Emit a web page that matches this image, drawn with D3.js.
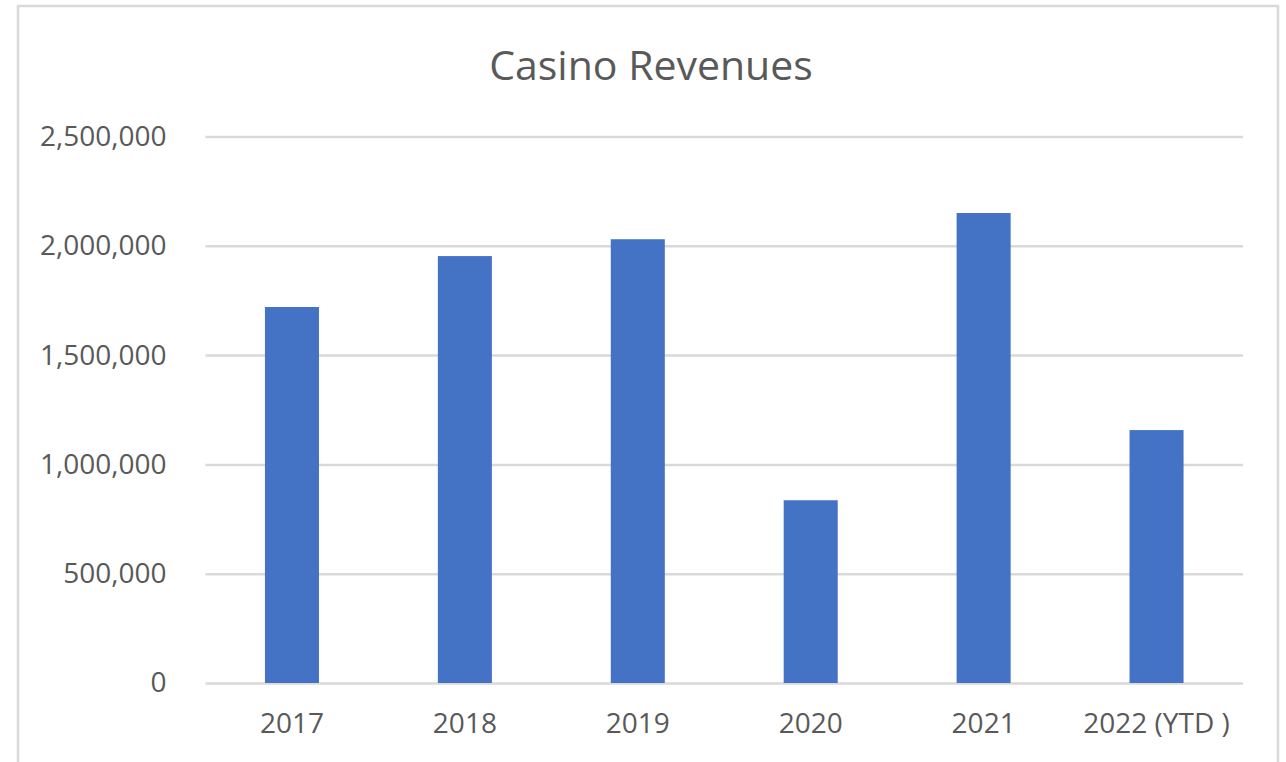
<!DOCTYPE html>
<html>
<head>
<meta charset="utf-8">
<script src="https://cdn.jsdelivr.net/npm/d3@7"></script>
<style>
  body { margin: 0; background: #fff; }
  svg { display: block; }
  .tick text { font-family: "Open Sans", sans-serif; fill: #595959; }
</style>
</head>
<body>
<svg id="graphsvg" width="1286" height="762"></svg>
<script>
// data
var years = ["2017", "2018", "2019", "2020", "2021", "2022 (YTD )"];
var revenues = [1720000, 1953000, 2030000, 836000, 2150000, 1157000];
var yTicks = [0, 500000, 1000000, 1500000, 2000000, 2500000];

var svg = d3.select("#graphsvg"),
    margin = {top: 136.5, right: 43, bottom: 79, left: 205.5},
    width = 1286 - margin.left - margin.right,
    height = 762 - margin.top - margin.bottom;

// chart frame
svg.append("rect")
  .attr("x", 18).attr("y", 6)
  .attr("width", 1260).attr("height", 800)
  .attr("fill", "#fff")
  .attr("stroke", "#d9d9d9")
  .attr("stroke-width", 2.5);

svg.append("text")
  .attr("x", 651)
  .attr("y", 80)
  .attr("text-anchor", "middle")
  .style("font-family", "Open Sans, sans-serif")
  .style("font-size", "41px")
  .style("fill", "#595959")
  .text("Casino Revenues");

var g = svg.append("g")
  .attr("transform", "translate(" + margin.left + "," + margin.top + ")");

var y = d3.scaleLinear()
  .domain([0, 2500000])
  .range([height, 0]);

var x = d3.scaleBand()
  .domain(years)
  .range([0, width])
  .paddingInner(0.6875)
  .paddingOuter(0.34375);

// gridlines + y labels
var yAxis = g.append("g")
  .attr("class", "y-axis")
  .call(d3.axisLeft(y).tickValues(yTicks).tickSizeInner(-width).tickSizeOuter(0)
    .tickPadding(39).tickFormat(d3.format(",")));
yAxis.select(".domain").remove();
yAxis.selectAll("line").attr("stroke", "#d9d9d9").attr("stroke-width", 2.5);
yAxis.selectAll("text").style("font-size", "28px");

g.selectAll("rect.bar")
  .data(revenues)
  .enter().append("rect")
  .attr("class", "bar")
  .attr("x", function(d, i) { return x(years[i]); })
  .attr("y", function(d) { return y(d); })
  .attr("width", x.bandwidth())
  .attr("height", function(d) { return y(0) - y(d); })
  .attr("fill", "#4472c4");

// x labels
var xAxis = g.append("g")
  .attr("class", "x-axis")
  .attr("transform", "translate(0," + height + ")")
  .call(d3.axisBottom(x).tickSize(0).tickPadding(30));
xAxis.select(".domain").remove();
xAxis.selectAll("text").style("font-size", "28px");
</script>
</body>
</html>
